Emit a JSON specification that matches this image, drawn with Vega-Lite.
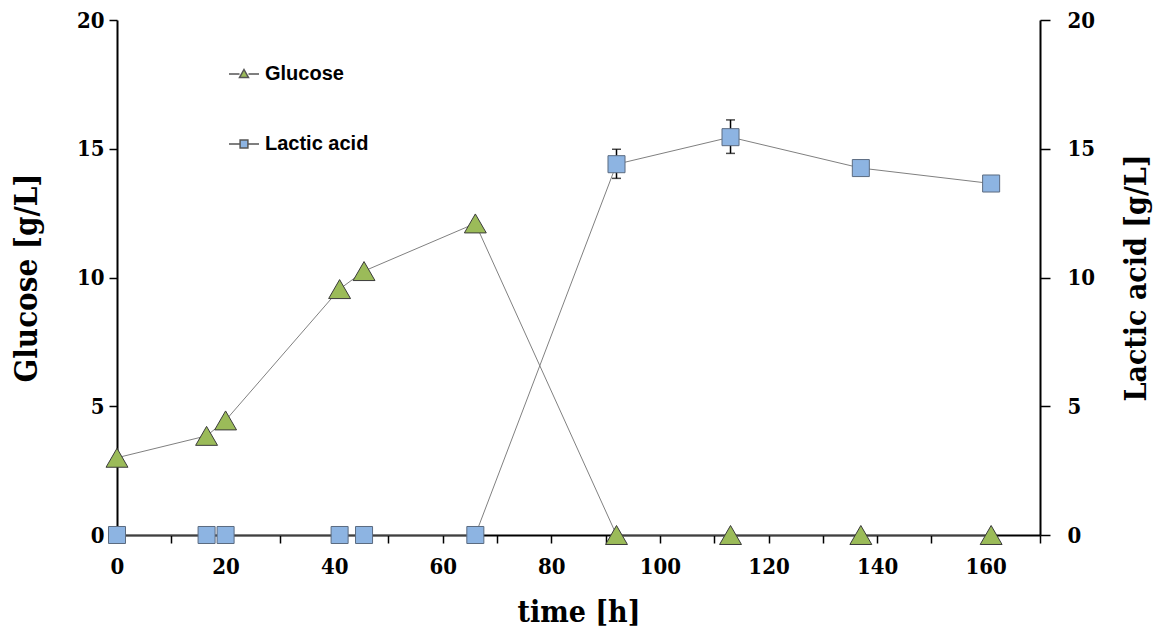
{
  "$schema": "https://vega.github.io/schema/vega-lite/v6.json",
  "autosize": {"type": "none"},
  "padding": {"left": 117, "top": 20, "right": 125, "bottom": 97},
  "width": 923,
  "height": 515,
  "background": "white",
  "data": {
    "values": [
      {"t": 0, "series": "Glucose", "value": 3.0},
      {"t": 16.5, "series": "Glucose", "value": 3.85},
      {"t": 20, "series": "Glucose", "value": 4.45},
      {"t": 41, "series": "Glucose", "value": 9.55},
      {"t": 45.5, "series": "Glucose", "value": 10.25},
      {"t": 66, "series": "Glucose", "value": 12.1},
      {"t": 92, "series": "Glucose", "value": 0},
      {"t": 113, "series": "Glucose", "value": 0},
      {"t": 137, "series": "Glucose", "value": 0},
      {"t": 161, "series": "Glucose", "value": 0},
      {"t": 0, "series": "Lactic acid", "value": 0},
      {"t": 16.5, "series": "Lactic acid", "value": 0},
      {"t": 20, "series": "Lactic acid", "value": 0},
      {"t": 41, "series": "Lactic acid", "value": 0},
      {"t": 45.5, "series": "Lactic acid", "value": 0},
      {"t": 66, "series": "Lactic acid", "value": 0},
      {"t": 92, "series": "Lactic acid", "value": 14.4, "lo": 13.85, "hi": 14.98},
      {"t": 113, "series": "Lactic acid", "value": 15.45, "lo": 14.82, "hi": 16.12},
      {"t": 137, "series": "Lactic acid", "value": 14.25},
      {"t": 161, "series": "Lactic acid", "value": 13.65}
    ]
  },
  "encoding": {
    "x": {
      "field": "t",
      "type": "quantitative",
      "scale": {"domain": [0, 170], "nice": false},
      "axis": {
        "title": "time [h]",
        "values": [0, 10, 20, 30, 40, 50, 60, 70, 80, 90, 100, 110, 120, 130, 140, 150, 160, 170],
        "labelExpr": "datum.value % 20 == 0 && datum.value <= 160 ? datum.label : ''",
        "labelFlush": false,
        "labelOverlap": false,
        "labelPadding": 13,
        "titlePadding": 20
      }
    }
  },
  "layer": [
    {
      "transform": [{"filter": "datum.series == 'Glucose'"}],
      "mark": {"type": "line", "color": "#808080", "strokeWidth": 1},
      "encoding": {
        "y": {
          "field": "value",
          "type": "quantitative",
          "scale": {"domain": [0, 20], "nice": false},
          "axis": {"title": "Glucose [g/L]", "orient": "left", "values": [0, 5, 10, 15, 20], "titlePadding": 33, "labelPadding": 5, "titleFontSize": 31}
        }
      }
    },
    {
      "transform": [{"filter": "datum.series == 'Lactic acid'"}],
      "mark": {"type": "line", "color": "#808080", "strokeWidth": 1},
      "encoding": {
        "y": {
          "field": "value",
          "type": "quantitative",
          "scale": {"domain": [0, 20], "nice": false},
          "axis": {"title": "Lactic acid [g/L]", "orient": "right", "titleAngle": 270, "titleBaseline": "top", "values": [0, 5, 10, 15, 20], "titlePadding": 27, "labelPadding": 17, "labelAlign": "left", "tickSize": 10}
        }
      }
    },
    {
      "transform": [{"filter": "isValid(datum.lo)"}],
      "mark": {"type": "errorbar", "ticks": {"size": 9}, "thickness": 1.5, "color": "black"},
      "encoding": {
        "y": {"field": "lo", "type": "quantitative", "scale": {"domain": [0, 20], "nice": false}, "axis": null, "title": null},
        "y2": {"field": "hi"}
      }
    },
    {
      "mark": {"type": "point", "filled": true, "opacity": 1, "strokeWidth": 1},
      "encoding": {
        "y": {"field": "value", "type": "quantitative", "scale": {"domain": [0, 20], "nice": false}, "axis": null},
        "shape": {"field": "series", "type": "nominal", "scale": {"domain": ["Glucose", "Lactic acid"], "range": ["triangle-up", "square"]}, "legend": null},
        "fill": {"field": "series", "type": "nominal", "scale": {"domain": ["Glucose", "Lactic acid"], "range": ["#9BBB59", "#8DB4E2"]}, "legend": null},
        "stroke": {"field": "series", "type": "nominal", "scale": {"domain": ["Glucose", "Lactic acid"], "range": ["#3b3b3b", "#5b6b80"]}, "legend": null},
        "size": {"field": "series", "type": "nominal", "scale": {"domain": ["Glucose", "Lactic acid"], "range": [480, 290]}, "legend": null}
      }
    },
    {
      "transform": [{"filter": "datum.t < 0"}],
      "mark": {"type": "point", "filled": true, "opacity": 1, "stroke": "#555555", "strokeWidth": 1},
      "encoding": {
        "y": {"field": "value", "type": "quantitative", "scale": {"domain": [0, 20], "nice": false}, "axis": null},
        "shape": {
          "field": "series", "type": "nominal",
          "scale": {"domain": ["Glucose", "Lactic acid"], "range": ["M-1,0H-0.3M0.3,0H1M0,-0.3L0.3,0.24L-0.3,0.24Z", "M-1,0H-0.26M0.26,0H1M-0.26,-0.26H0.26V0.26H-0.26Z"]},
          "legend": {"orient": "none", "legendX": 111, "legendY": 38, "title": null, "symbolSize": 900, "rowPadding": 44, "padding": 0, "labelFont": "Liberation Sans", "labelFontSize": 20, "labelFontWeight": "bold", "labelColor": "black", "labelOffset": 5,
            "encode": {"symbols": {"update": {"stroke": {"value": "#555555"}, "strokeWidth": {"value": 1}, "size": {"value": 900}, "opacity": {"value": 1}, "fillOpacity": {"value": 1}}}}}
        },
        "fill": {
          "field": "series", "type": "nominal",
          "scale": {"domain": ["Glucose", "Lactic acid"], "range": ["#9BBB59", "#8DB4E2"]},
          "legend": {"orient": "none", "legendX": 111, "legendY": 38, "title": null, "symbolSize": 900, "rowPadding": 44, "padding": 0, "labelFont": "Liberation Sans", "labelFontSize": 20, "labelFontWeight": "bold", "labelColor": "black", "labelOffset": 5,
            "encode": {"symbols": {"update": {"stroke": {"value": "#555555"}, "strokeWidth": {"value": 1}, "size": {"value": 900}, "opacity": {"value": 1}, "fillOpacity": {"value": 1}}}}}
        }
      }
    }
  ],
  "resolve": {
    "scale": {"shape": "independent", "fill": "independent", "stroke": "independent", "size": "independent"},
    "axis": {"y": "independent"}
  },
  "config": {
    "view": {"stroke": null},
    "axis": {
      "grid": false,
      "domainColor": "black",
      "domainWidth": 2,
      "tickColor": "black",
      "tickWidth": 1.5,
      "tickSize": 8,
      "labelFont": "DejaVu Serif Condensed",
      "labelFontWeight": "bold",
      "labelFontSize": 22,
      "labelColor": "black",
      "titleFont": "DejaVu Serif Condensed",
      "titleFontWeight": "bold",
      "titleFontSize": 30,
      "titleColor": "black"
    }
  }
}
